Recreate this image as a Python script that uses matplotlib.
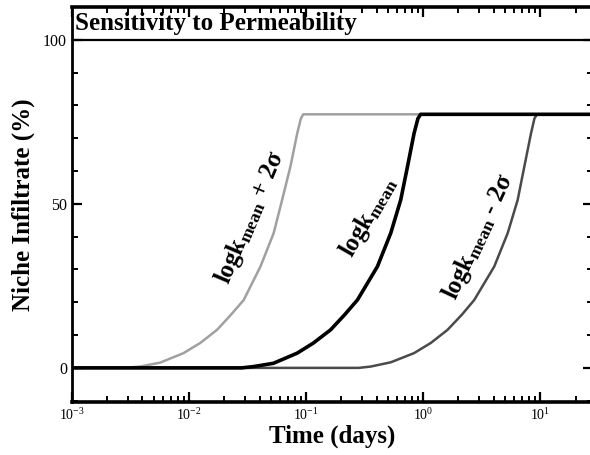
import numpy as np
import matplotlib.pyplot as plt
from matplotlib.ticker import FixedLocator, LogLocator, MultipleLocator, NullFormatter

plt.rcParams['font.family'] = 'Liberation Serif'
plt.rcParams['mathtext.fontset'] = 'custom'
plt.rcParams['mathtext.rm'] = 'Liberation Serif'
plt.rcParams['mathtext.bf'] = 'Liberation Serif:bold'
plt.rcParams['mathtext.it'] = 'Liberation Serif:italic'

# curves: log10(time in days) and niche infiltrate (%)
plus_logt = [-3.0, -2.60, -2.503, -2.418, -2.247, -2.047, -1.904, -1.761, -1.647,
             -1.533, -1.390, -1.277, -1.205, -1.134, -1.076, -1.045, -1.025, 1.45]
plus_y = [0.0, 0.0, 0.15, 0.4, 1.6, 4.5, 7.6, 11.6, 16.0,
          20.7, 30.9, 41.1, 51.2, 61.4, 71.5, 76.0, 77.3, 77.3]

mean_logt = [-3.0, -1.55, -1.448, -1.279, -1.076, -0.937, -0.791, -0.671, -0.562,
             -0.391, -0.277, -0.192, -0.134, -0.078, -0.045, -0.022, 1.45]
mean_y = [0.0, 0.0, 0.4, 1.4, 4.5, 7.6, 11.6, 16.2, 20.7,
          30.9, 41.1, 51.2, 61.4, 71.5, 76.0, 77.3, 77.3]

minus_logt = [-3.0, -0.55, -0.449, -0.277, -0.078, 0.065, 0.208, 0.330, 0.436,
              0.607, 0.722, 0.807, 0.864, 0.921, 0.950, 0.972, 1.45]
minus_y = [0.0, 0.0, 0.4, 1.7, 4.5, 7.6, 11.6, 16.2, 20.7,
           30.9, 41.1, 51.2, 61.4, 71.5, 76.0, 77.3, 77.3]

y_ticks = [0, 50, 100]
x_ticks = [1e-3, 1e-2, 1e-1, 1e0, 1e1]
x_tick_labels = ['$10^{-3}$', '$10^{-2}$', '$10^{-1}$', '$10^{0}$', '$10^{1}$']

fig = plt.figure(figsize=(5.9, 4.55), dpi=100)
ax = fig.add_axes([0.122, 0.1165, 0.883, 0.868])

ax.plot(10 ** np.array(plus_logt), plus_y, color='#a0a0a0', lw=1.8, zorder=3)
ax.plot(10 ** np.array(minus_logt), minus_y, color='#4a4a4a', lw=1.8, zorder=4)
ax.plot(10 ** np.array(mean_logt), mean_y, color='black', lw=2.6, zorder=5)
ax.axhline(100, color='black', lw=1.6)

ax.set_xscale('log')
ax.set_xlim(1e-3, 10 ** 1.45)
ax.set_ylim(-10.4, 110)

ax.xaxis.set_major_locator(FixedLocator(x_ticks))
ax.set_xticklabels(x_tick_labels, fontsize=10)
ax.xaxis.set_minor_locator(LogLocator(base=10, subs=np.arange(2, 10)))
ax.xaxis.set_minor_formatter(NullFormatter())
ax.set_yticks(y_ticks)
ax.set_yticklabels([str(v) for v in y_ticks], fontsize=11.5)
ax.yaxis.set_minor_locator(MultipleLocator(10))

ax.tick_params(which='both', direction='in', top=True, right=True)
ax.tick_params(which='major', length=7, width=1.6)
ax.tick_params(which='minor', length=4, width=1.4)

for side in ['top', 'bottom']:
    ax.spines[side].set_linewidth(2.6)
ax.spines['left'].set_linewidth(2.0)
ax.spines['right'].set_linewidth(2.0)

ax.set_xlabel('Time (days)', fontsize=18, fontweight='bold', labelpad=1)
ax.set_ylabel('Niche Infiltrate (%)', fontsize=18, fontweight='bold', labelpad=6)

ax.text(10 ** -2.975, 105.0, 'Sensitivity to Permeability', fontsize=18,
        fontweight='bold', va='center', ha='left')

ax.text(10 ** -1.48, 46, r'$\mathbf{logk}_{\mathbf{mean}}$ + 2σ', fontsize=18,
        fontweight='bold', rotation=67, ha='center', va='center')
ax.text(10 ** -0.47, 46, r'$\mathbf{logk}_{\mathbf{mean}}$', fontsize=18,
        fontweight='bold', rotation=60, ha='center', va='center')
ax.text(10 ** 0.47, 40, r'$\mathbf{logk}_{\mathbf{mean}}$ - 2σ', fontsize=18,
        fontweight='bold', rotation=65, ha='center', va='center')

fig.savefig('out.png', dpi=100)
